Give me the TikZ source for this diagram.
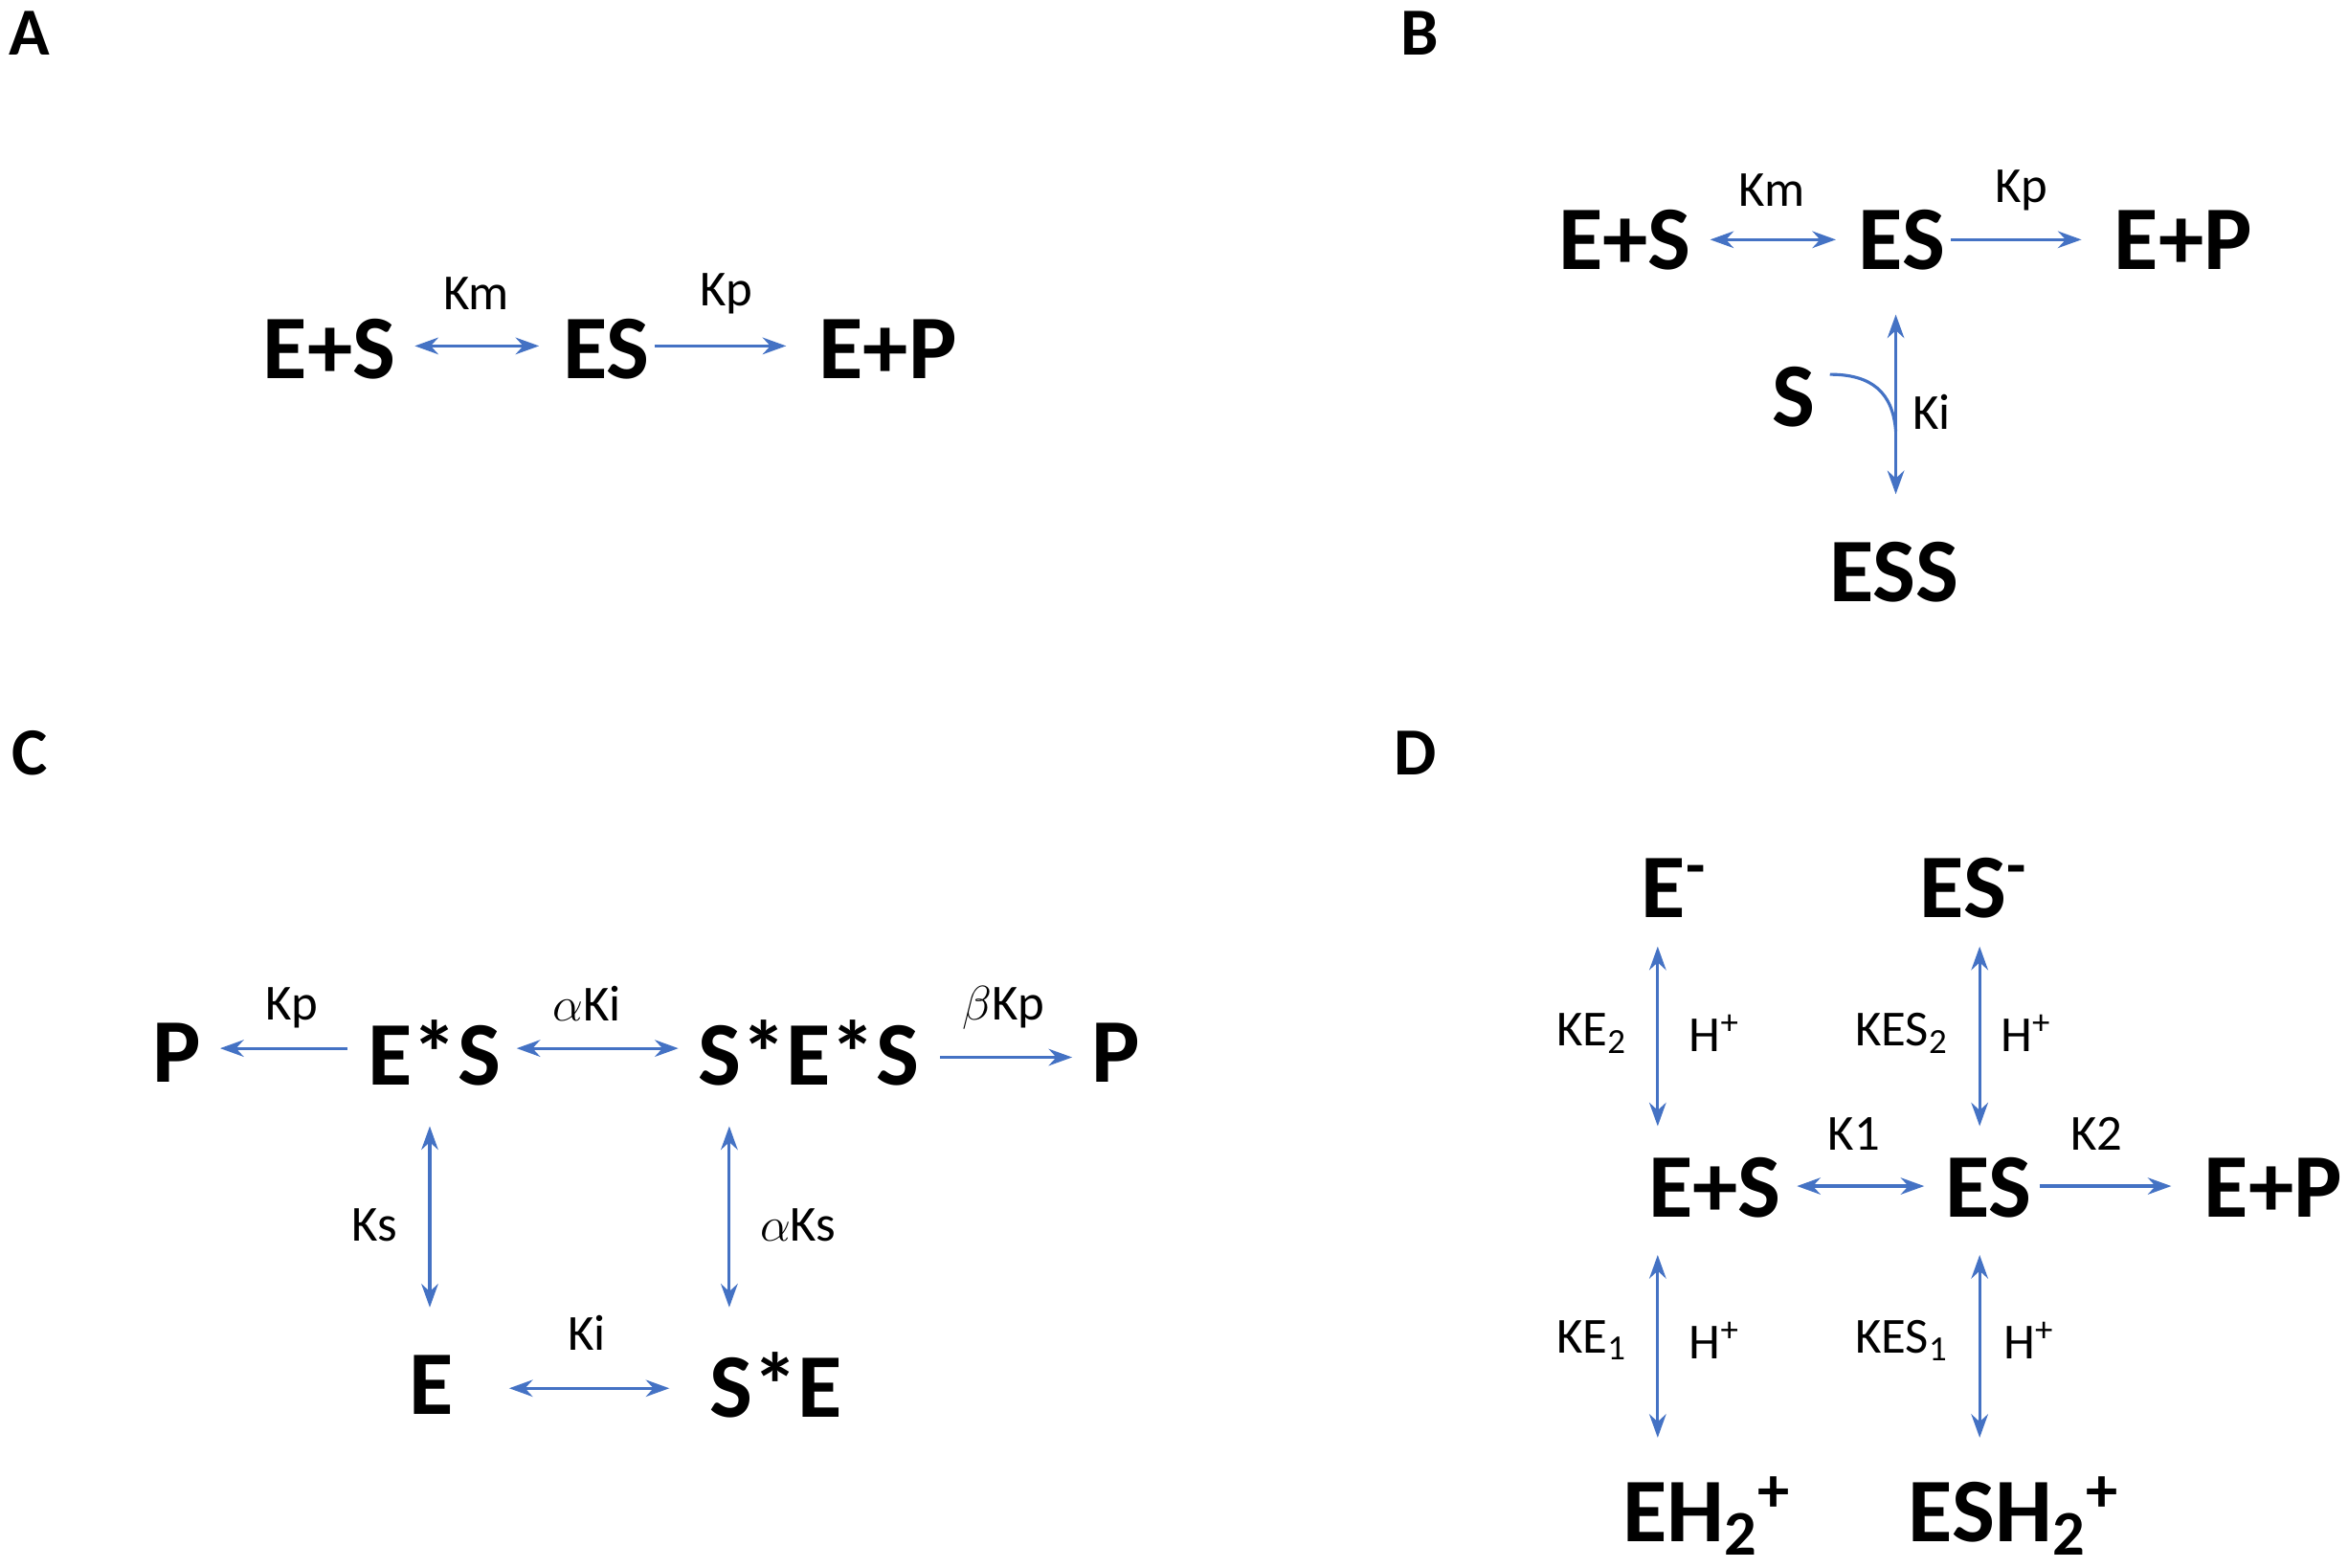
\documentclass[tikz,border=0pt]{standalone}
\usepackage{fontspec}
\setmainfont{Carlito}
\usetikzlibrary{arrows.meta}
\definecolor{arr}{RGB}{68,114,196}
\begin{document}
\begin{tikzpicture}[x=0.01564cm,y=-0.01564cm,
  sp/.style={font=\fontsize{27}{30}\selectfont\bfseries, inner sep=0pt},
  lab/.style={font=\fontsize{15}{17}\selectfont, inner sep=0pt},
  pan/.style={font=\fontsize{20}{22}\selectfont\bfseries, inner sep=0pt},
  one/.style={draw=arr, line width=0.9pt, -{Stealth[length=7pt,width=5pt]}},
  two/.style={draw=arr, line width=0.9pt, {Stealth[length=7pt,width=5pt]}-{Stealth[length=7pt,width=5pt]}}]
\useasboundingbox (0,0) rectangle (1568,1046.4);
% panel labels
\node[pan] (pA) at (20,22) {A};
\node[pan] (pB) at (948,22) {B};
\node[pan] (pC) at (20,503) {C};
\node[pan] (pD) at (945,503) {D};
% A
\node[sp] (a1) at (220,233) {E+S};
\node[sp] (a2) at (405,233) {ES};
\node[sp] (a3) at (593,233) {E+P};
\coordinate (a12s) at (277,231); \coordinate (a12e) at (360,231);
\coordinate (a23s) at (437,231); \coordinate (a23e) at (525,231);
\draw[two] (a12s) -- (a12e);
\draw[one] (a23s) -- (a23e);
\node[lab] (akm) at (318,196) {Km};
\node[lab] (akp) at (485,196) {Kp};
% B
\node[sp] (b1) at (1085,160) {E+S};
\node[sp] (b2) at (1270,160) {ES};
\node[sp] (b3) at (1458,160) {E+P};
\node[sp] (bs) at (1198,265) {S};
\node[sp] (bess) at (1265,382) {ESS};
\coordinate (b12s) at (1142,160); \coordinate (b12e) at (1226,160);
\coordinate (b23s) at (1303,160); \coordinate (b23e) at (1390,160);
\coordinate (bvs) at (1266,210); \coordinate (bve) at (1266,330);
\coordinate (bcs) at (1222,250); \coordinate (bce) at (1266,288);
\draw[two] (b12s) -- (b12e);
\draw[one] (b23s) -- (b23e);
\draw[two] (bvs) -- (bve);
\draw[draw=arr, line width=0.9pt] (bcs) .. controls (1250,250) and (1264,262) .. (bce);
\node[lab] (bkm) at (1183,127) {Km};
\node[lab] (bkp) at (1350,127) {Kp};
\node[lab] (bki) at (1290,275) {Ki};
% C
\node[sp] (cp1) at (118,703) {P};
\node[sp] (c1) at (290,703) {E*S};
\node[sp] (c2) at (540,703) {S*E*S};
\node[sp] (cp2) at (745,703) {P};
\node[sp] (ce) at (288,925) {E};
\node[sp] (cse) at (518,925) {S*E};
\coordinate (c1s) at (232,700); \coordinate (c1e) at (147,700);
\coordinate (c2s) at (345,700); \coordinate (c2e) at (453,700);
\coordinate (c3s) at (628,706); \coordinate (c3e) at (716,706);
\coordinate (c4s) at (287,752); \coordinate (c4e) at (287,873);
\coordinate (c5s) at (487,752); \coordinate (c5e) at (487,873);
\coordinate (c6s) at (340,927); \coordinate (c6e) at (447,927);
\draw[one] (c1s) -- (c1e);
\draw[two] (c2s) -- (c2e);
\draw[one] (c3s) -- (c3e);
\draw[two] (c4s) -- (c4e);
\draw[two] (c5s) -- (c5e);
\draw[two] (c6s) -- (c6e);
\node[lab] (ckp) at (195,673) {Kp};
\node[lab] (caki) at (392,670) {$\alpha$Ki};
\node[lab] (cbkp) at (670,673) {$\beta$Kp};
\node[lab] (cks) at (250,818) {Ks};
\node[lab] (caks) at (533,818) {$\alpha$Ks};
\node[lab] (cki) at (392,890) {Ki};
% D
\node[sp] (dem) at (1118,593) {E\textsuperscript{-}};
\node[sp] (desm) at (1318,593) {ES\textsuperscript{-}};
\node[sp] (d1) at (1145,793) {E+S};
\node[sp] (d2) at (1328,793) {ES};
\node[sp] (d3) at (1518,793) {E+P};
\node[sp] (deh) at (1140,1012) {EH\textsubscript{2}\textsuperscript{+}};
\node[sp] (deshh) at (1345,1012) {ESH\textsubscript{2}\textsuperscript{+}};
\coordinate (d1s) at (1107,632); \coordinate (d1e) at (1107,752);
\coordinate (d2s) at (1322,632); \coordinate (d2e) at (1322,752);
\coordinate (d3s) at (1200,792); \coordinate (d3e) at (1285,792);
\coordinate (d4s) at (1362,792); \coordinate (d4e) at (1450,792);
\coordinate (d5s) at (1107,838); \coordinate (d5e) at (1107,960);
\coordinate (d6s) at (1322,838); \coordinate (d6e) at (1322,960);
\draw[two] (d1s) -- (d1e);
\draw[two] (d2s) -- (d2e);
\draw[two] (d3s) -- (d3e);
\draw[one] (d4s) -- (d4e);
\draw[two] (d5s) -- (d5e);
\draw[two] (d6s) -- (d6e);
\node[lab] (dke2) at (1063,690) {KE\textsubscript{2}};
\node[lab] (dh1) at (1145,690) {H\textsuperscript{+}};
\node[lab] (dkes2) at (1270,690) {KES\textsubscript{2}};
\node[lab] (dh2) at (1353,690) {H\textsuperscript{+}};
\node[lab] (dk1) at (1238,757) {K1};
\node[lab] (dk2) at (1400,757) {K2};
\node[lab] (dke1) at (1063,895) {KE\textsubscript{1}};
\node[lab] (dh3) at (1145,895) {H\textsuperscript{+}};
\node[lab] (dkes1) at (1270,895) {KES\textsubscript{1}};
\node[lab] (dh4) at (1355,895) {H\textsuperscript{+}};
\end{tikzpicture}
\end{document}
